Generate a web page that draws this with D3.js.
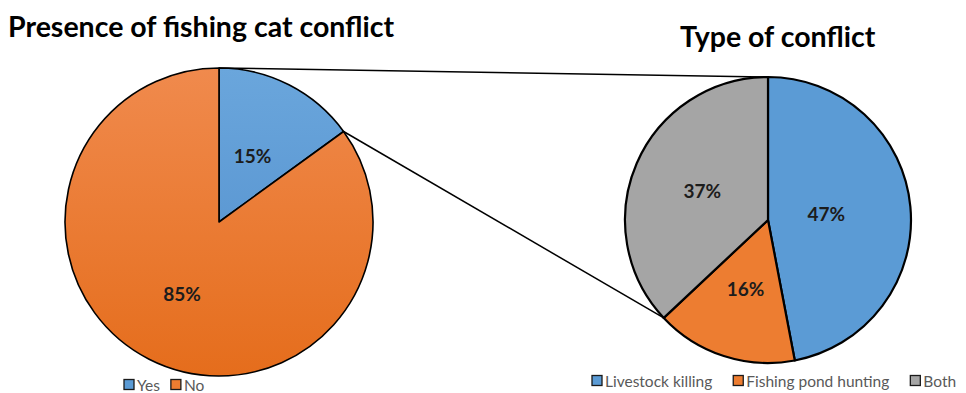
<!DOCTYPE html>
<html><head><meta charset="utf-8">
<script src="https://cdn.jsdelivr.net/npm/d3@7"></script>
<style>body{margin:0;background:#fff}svg{display:block}</style>
</head><body>
<svg id="chart" width="966" height="393"></svg>
<script>
// Survey results: presence of conflict, and breakdown of conflict types
const presenceLabels = ["Yes", "No"];
const presenceValues = [15, 85];
const typeLabels = ["Livestock killing", "Fishing pond hunting", "Both"];
const typeValues = [47, 16, 37];
const chartTitles = ["Presence of fishing cat conflict", "Type of conflict"];

const svg = d3.select("#chart");
const font = "Lato, 'Open Sans', sans-serif";
const colorsLeft = ["#5b9bd5", "#ed7d31"];
const colorsRight = ["#5b9bd5", "#ed7d31", "#a5a5a5"];

const left = {cx: 219, cy: 222, r: 154};
const right = {cx: 768, cy: 220, r: 143};

// soft vertical shading on the left pie (coordinates local to the pie group)
const defs = svg.append("defs");
function grad(id, top, bottom, p) {
  const g = defs.append("linearGradient").attr("id", id)
    .attr("gradientUnits", "userSpaceOnUse")
    .attr("x1", 0).attr("x2", 0).attr("y1", -p.r).attr("y2", p.r);
  g.append("stop").attr("offset", 0).attr("stop-color", top);
  g.append("stop").attr("offset", 1).attr("stop-color", bottom);
}
grad("gBlue", "#6aa6dc", "#4f8ccb", left);
grad("gOrange", "#f08a4d", "#e56d1c", left);

const pie = d3.pie().sort(null).value(d => d);
const pt = (p, a) => [p.cx + p.r * Math.sin(a), p.cy - p.r * Math.cos(a)];

function drawPie(p, values, fills, labelFactors, strokeW) {
  const arcs = pie(values);
  const arc = d3.arc().innerRadius(0).outerRadius(p.r);
  const g = svg.append("g").attr("transform", `translate(${p.cx},${p.cy})`);
  g.selectAll("path").data(arcs).join("path")
    .attr("d", arc)
    .attr("fill", (d, i) => fills[i])
    .attr("stroke", "#000").attr("stroke-width", strokeW).attr("stroke-linejoin", "round");
  g.selectAll("text").data(arcs).join("text")
    .attr("transform", (d, i) => {
      const a = (d.startAngle + d.endAngle) / 2, rr = p.r * labelFactors[i];
      return `translate(${rr * Math.sin(a)},${-rr * Math.cos(a)})`;
    })
    .attr("text-anchor", "middle").attr("dy", "0.35em")
    .attr("font-family", font).attr("font-weight", 700).attr("font-size", 19)
    .attr("fill", "#1c1c1c")
    .text(d => d.data + "%");
  return arcs;
}

const leftArcs = drawPie(left, presenceValues, ["url(#gBlue)", "url(#gOrange)"], [0.48, 0.53], 1.6);
const rightArcs = drawPie(right, typeValues, colorsRight, [0.41, 0.51, 0.5], 2.2);

// connector lines between the "Yes" slice and the breakdown pie
const yesStart = leftArcs[0].startAngle, yesEnd = leftArcs[0].endAngle;
const breakStart = rightArcs[0].startAngle, breakEnd = rightArcs[typeValues.length - 1].startAngle;
const conn = [
  [pt(left, yesStart), pt(right, breakStart)],
  [pt(left, yesEnd), pt(right, breakEnd)]
];
svg.append("g").selectAll("line").data(conn).join("line")
  .attr("x1", d => d[0][0]).attr("y1", d => d[0][1])
  .attr("x2", d => d[1][0]).attr("y2", d => d[1][1])
  .attr("stroke", "#000").attr("stroke-width", 1.5);

// titles
svg.append("text").attr("x", 8).attr("y", 37)
  .attr("font-family", font).attr("font-weight", 700).attr("font-size", 28.5)
  .attr("fill", "#000").text(chartTitles[0]);
svg.append("text").attr("x", 680).attr("y", 47)
  .attr("font-family", font).attr("font-weight", 700).attr("font-size", 28.5)
  .attr("fill", "#000").text(chartTitles[1]);

// legends
function legend(x0, y0, labels, fills, gap) {
  const g = svg.append("g");
  let x = x0;
  labels.forEach((lab, i) => {
    g.append("rect").attr("x", x).attr("y", y0 - 11.5).attr("width", 10).attr("height", 10)
      .attr("fill", fills[i]).attr("stroke", "#1a1a1a").attr("stroke-width", 1.3);
    const t = g.append("text").attr("x", x + 13).attr("y", y0)
      .attr("font-family", font).attr("font-size", 15.5).attr("fill", "#595959").text(lab);
    x += 13 + t.node().getComputedTextLength() + gap;
  });
}
legend(124, 391, presenceLabels, colorsLeft, 11);
legend(592, 387, typeLabels, colorsRight, 21);
</script>
</body></html>
